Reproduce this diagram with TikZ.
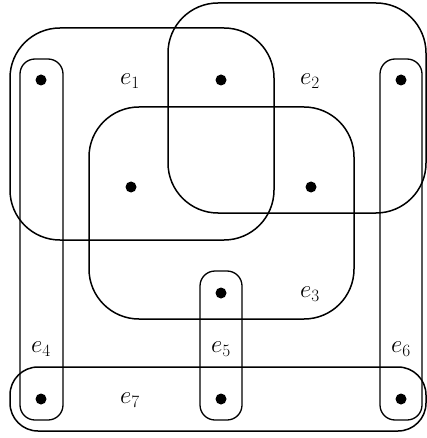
\documentclass[tikz,border=0pt]{standalone}
\begin{document}
\begin{tikzpicture}[x=1pt,y=-1pt,
  vtx/.style={circle,fill=black,inner sep=0pt,minimum size=11pt},
  edgebig/.style={line width=1.5pt,rounded corners=50pt},
  edgethin/.style={line width=1.3pt,rounded corners=15pt},
  elabel/.style={inner sep=0pt,font=\fontsize{24}{29}\selectfont}]
\useasboundingbox (0,0) rectangle (427,438);
% vertices
\node[vtx] (v1) at (41,80) {};
\node[vtx] (v2) at (221,80) {};
\node[vtx] (v3) at (401,80) {};
\node[vtx] (v4) at (131,187) {};
\node[vtx] (v5) at (311,187) {};
\node[vtx] (v6) at (221,293) {};
\node[vtx] (v7) at (41,399) {};
\node[vtx] (v8) at (221,399) {};
\node[vtx] (v9) at (401,399) {};
% hyperedges
\draw[edgebig] (10,28) rectangle (274,240);
\draw[edgebig] (168,3) rectangle (426,213);
\draw[edgebig] (89,107) rectangle (354,319);
\draw[edgethin] (20,59) rectangle (63,420);
\draw[edgethin] (200,271) rectangle (242,420);
\draw[edgethin] (380,59) rectangle (422,420);
\draw[line width=1.5pt,rounded corners=28pt] (10,367) rectangle (426,431);
% labels
\node[elabel] (l1) at (130,81) {$e_1$};
\node[elabel] (l2) at (310,81) {$e_2$};
\node[elabel] (l3) at (310,294) {$e_3$};
\node[elabel] (l4) at (41,349) {$e_4$};
\node[elabel] (l5) at (221,349) {$e_5$};
\node[elabel] (l6) at (401,349) {$e_6$};
\node[elabel] (l7) at (130,400) {$e_7$};
\end{tikzpicture}
\end{document}
